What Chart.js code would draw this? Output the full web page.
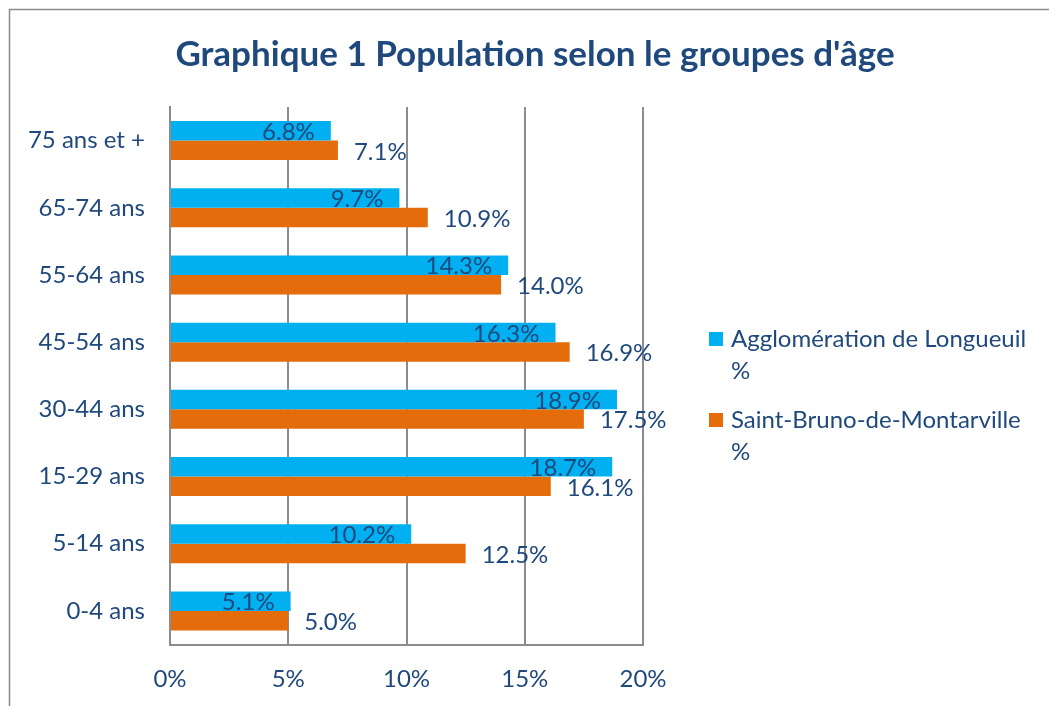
<!DOCTYPE html>
<html>
<head>
<meta charset="utf-8">
<script src="https://cdn.jsdelivr.net/npm/chart.js@4"></script>
<style>
  html, body { margin: 0; padding: 0; background: #fff; }
  #wrap { width: 1049px; height: 706px; position: relative; }
</style>
</head>
<body>
<div id="wrap"><canvas id="popChart" width="1049" height="706"></canvas></div>
<script>
'use strict';

// --- data (top of chart first) ---
const ageGroups = ['75 ans et +', '65-74 ans', '55-64 ans', '45-54 ans', '30-44 ans', '15-29 ans', '5-14 ans', '0-4 ans'];
const longueuil = [6.8, 9.7, 14.3, 16.3, 18.9, 18.7, 10.2, 5.1];
const saintBruno = [7.1, 10.9, 14.0, 16.9, 17.5, 16.1, 12.5, 5.0];
const seriesNames = ['Agglomération de Longueuil %', 'Saint-Bruno-de-Montarville %'];
const xTicks = [0, 5, 10, 15, 20];
const chartTitle = 'Graphique 1 Population selon le groupes d\'âge';

const TEXT = '#1f497d';
const GRID = '#8c8c8c';
const FONT = 'Lato, "Open Sans", sans-serif';

// frame round the whole chart + the title, centred on the page
const framePlugin = {
  id: 'frame',
  beforeDraw(chart) {
    const c = chart.ctx;
    c.save();
    c.strokeStyle = '#8a8a8a';
    c.lineWidth = 1.5;
    c.strokeRect(9.5, 9.5, 1100, 800);
    c.font = 'bold 35px ' + FONT;
    c.fillStyle = TEXT;
    c.textAlign = 'center';
    c.textBaseline = 'middle';
    c.fillText(chartTitle, 535, 55);
    c.restore();
  }
};

// value labels: blue inside the bar end, orange just past the bar end
const valueLabels = {
  id: 'valueLabels',
  afterDatasetsDraw(chart) {
    const c = chart.ctx;
    c.save();
    c.font = '24px ' + FONT;
    c.fillStyle = TEXT;
    c.textBaseline = 'middle';
    chart.data.datasets.forEach((ds, di) => {
      chart.getDatasetMeta(di).data.forEach((bar, i) => {
        const txt = ds.data[i].toFixed(1) + '%';
        if (di === 0) {
          c.textAlign = 'right';
          c.fillText(txt, bar.x - 16, bar.y + 1.5);
        } else {
          c.textAlign = 'left';
          c.fillText(txt, bar.x + 16, bar.y + 1.5);
        }
      });
    });
    c.restore();
  }
};

// legend on the right, last word on its own line
const sideLegend = {
  id: 'sideLegend',
  afterDraw(chart) {
    const c = chart.ctx;
    const x0 = 709, tx = 731;
    const rows = [339, 420];
    c.save();
    c.font = '24px ' + FONT;
    c.textBaseline = 'middle';
    c.textAlign = 'left';
    chart.data.datasets.forEach((ds, i) => {
      const y = rows[i];
      c.fillStyle = ds.backgroundColor;
      c.fillRect(x0, y - 7, 14, 14);
      const cut = ds.label.lastIndexOf(' ');
      const lines = [ds.label.slice(0, cut), ds.label.slice(cut + 1)];
      c.fillStyle = TEXT;
      lines.forEach((ln, k) => c.fillText(ln, tx, y + k * 32));
    });
    c.restore();
  }
};

new Chart(document.getElementById('popChart'), {
  type: 'bar',
  data: {
    labels: ageGroups,
    datasets: [
      { label: seriesNames[0], data: longueuil, backgroundColor: '#00b0f0' },
      { label: seriesNames[1], data: saintBruno, backgroundColor: '#e46c0a' }
    ]
  },
  options: {
    indexAxis: 'y',
    responsive: false,
    animation: false,
    devicePixelRatio: 1,
    categoryPercentage: 0.58,
    barPercentage: 1.0,
    layout: { padding: { left: 0, right: 406, top: 107, bottom: 0 } },
    plugins: {
      legend: { display: false },
      tooltip: { enabled: false },
      title: { display: false }
    },
    scales: {
      x: {
        min: 0,
        max: 20,
        afterBuildTicks: s => { s.ticks = xTicks.map(v => ({ value: v })); },
        afterFit: s => { s.height = 61.5; },
        grid: { color: GRID, lineWidth: 2, drawTicks: false },
        border: { display: true, color: GRID, width: 2 },
        ticks: {
          color: TEXT,
          font: { family: FONT, size: 24 },
          padding: 20,
          callback: v => v + '%'
        }
      },
      y: {
        afterFit: s => { s.width = 170; },
        grid: { display: false, drawTicks: false },
        border: { display: true, color: GRID, width: 2 },
        ticks: {
          color: TEXT,
          font: { family: FONT, size: 24 },
          padding: 25
        }
      }
    }
  },
  plugins: [framePlugin, valueLabels, sideLegend]
});
</script>
</body>
</html>
